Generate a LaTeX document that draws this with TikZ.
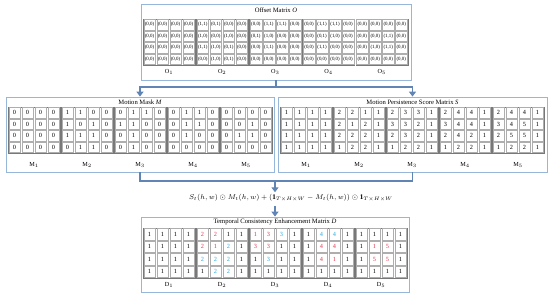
\documentclass[tikz,border=0pt]{standalone}
\usepackage{fontspec}
\setmainfont{Liberation Serif}
\usetikzlibrary{arrows.meta}
\definecolor{boxc}{RGB}{150,182,218}
\definecolor{arrc}{RGB}{96,132,180}
\definecolor{gridc}{RGB}{120,120,120}
\definecolor{myred}{RGB}{225,55,80}
\definecolor{myblue}{RGB}{40,170,220}
\newcommand\rr[1]{\textcolor{myred}{#1}}
\newcommand\bb[1]{\textcolor{myblue}{#1}}
\newcommand\pr[2]{(#1,#2)}
\newcommand\fs[1]{\fontsize{#1}{#1}\selectfont}
\tikzset{
  panel/.style={draw=boxc, line width=0.8pt, inner sep=0pt, fill=white},
  matbox/.style={draw=gridc, line width=0.45pt, inner sep=0pt, minimum width=52pt},
  cellbox/.style={draw=gridc!60, line width=0.35pt, inner sep=0pt, minimum width=11.6pt},
  ttl/.style={font=\fs{6.6}, inner sep=0pt},
  lab/.style={font=\fs{6.2}, inner sep=0pt},
  conn/.style={draw=arrc, line width=1.8pt},
  arr/.style={conn, -{Triangle[width=7pt,length=5pt]}},
}
% name, x, y, cell height, font size, label, label y, entries
\newcommand\drawmat[8]{%
  \node[matbox, minimum height=4*#4] (#1) at (#2+26,#3+2*#4) {};
  \foreach \v [count=\i from 0] in {#8} {
    \pgfmathtruncatemacro\cc{mod(\i,4)}
    \pgfmathtruncatemacro\rw{int(\i/4)}
    \node[cellbox, minimum height=#4-1.3, font=\fs{#5}] (#1-\i) at (#2+13*\cc+6.5,#3+#4*\rw+#4/2) {\v};
  }
  \node[lab] (#1-l) at (#2+26,#7) {#6};
}
\begin{document}
\begin{tikzpicture}[x=1pt,y=-1pt]
\useasboundingbox (0,0) rectangle (550,296);
% panels
\node[panel, minimum width=270pt, minimum height=76pt] (top) at (276,42) {};
\node[panel, minimum width=268pt, minimum height=75pt] (mask) at (140,134.5) {};
\node[panel, minimum width=269pt, minimum height=75pt] (score) at (412.5,134.5) {};
\node[panel, minimum width=268pt, minimum height=75pt] (D) at (275,254.5) {};
% titles
\node[ttl] (ttop) at (276,10) {Offset Matrix \textit{O}};
\node[ttl] (tmask) at (140,102) {Motion Mask \textit{M}};
\node[ttl] (tscore) at (412.5,102) {Motion Persistence Score Matrix \textit{S}};
\node[ttl] (tD) at (275,222) {Temporal Consistency Enhancement Matrix \textit{D}};
% offset matrices
\drawmat{O1}{143}{19}{11.5}{4.9}{O$_1$}{72}{\pr00,\pr00,\pr00,\pr00,\pr00,\pr00,\pr00,\pr00,\pr00,\pr00,\pr00,\pr00,\pr00,\pr00,\pr00,\pr00}
\drawmat{O2}{196.2}{19}{11.5}{4.9}{O$_2$}{72}{\pr11,\pr01,\pr00,\pr00,\pr10,\pr00,\pr10,\pr00,\pr11,\pr10,\pr01,\pr00,\pr00,\pr10,\pr01,\pr00}
\drawmat{O3}{249.4}{19}{11.5}{4.9}{O$_3$}{72}{\pr00,\pr11,\pr11,\pr00,\pr01,\pr10,\pr00,\pr00,\pr00,\pr11,\pr00,\pr00,\pr00,\pr00,\pr00,\pr00}
\drawmat{O4}{302.6}{19}{11.5}{4.9}{O$_4$}{72}{\pr00,\pr11,\pr11,\pr00,\pr00,\pr01,\pr10,\pr00,\pr00,\pr11,\pr00,\pr00,\pr00,\pr00,\pr00,\pr00}
\drawmat{O5}{355.8}{19}{11.5}{4.9}{O$_5$}{72}{\pr00,\pr00,\pr00,\pr00,\pr00,\pr00,\pr11,\pr00,\pr00,\pr10,\pr11,\pr00,\pr00,\pr00,\pr00,\pr00}
% mask matrices
\drawmat{M1}{8}{107}{11.5}{6.3}{M$_1$}{165}{0,0,0,0,0,0,0,0,0,0,0,0,0,0,0,0}
\drawmat{M2}{61}{107}{11.5}{6.3}{M$_2$}{165}{1,1,0,0,1,0,1,0,1,1,1,0,0,1,1,0}
\drawmat{M3}{114}{107}{11.5}{6.3}{M$_3$}{165}{0,1,1,0,1,1,0,0,0,1,0,0,0,1,0,0}
\drawmat{M4}{167}{107}{11.5}{6.3}{M$_4$}{165}{0,1,1,0,0,1,1,0,0,1,0,0,0,0,0,0}
\drawmat{M5}{220}{107}{11.5}{6.3}{M$_5$}{165}{0,0,0,0,0,0,1,0,0,1,1,0,0,0,0,0}
% score matrices
\drawmat{S1}{280}{107}{11.5}{6.3}{M$_1$}{165}{1,1,1,1,1,1,1,1,1,1,1,1,1,1,1,1}
\drawmat{S2}{333}{107}{11.5}{6.3}{M$_2$}{165}{2,2,1,1,2,1,2,1,2,2,2,1,1,2,2,1}
\drawmat{S3}{386}{107}{11.5}{6.3}{M$_3$}{165}{2,3,3,1,3,3,2,1,2,3,2,1,1,2,2,1}
\drawmat{S4}{439}{107}{11.5}{6.3}{M$_4$}{165}{2,4,4,1,3,4,4,1,2,4,2,1,1,2,2,1}
\drawmat{S5}{492}{107}{11.5}{6.3}{M$_5$}{165}{2,4,4,1,3,4,5,1,2,5,5,1,1,2,2,1}
% D matrices
\drawmat{D1}{143}{228}{12.5}{6.3}{D$_1$}{285}{1,1,1,1,1,1,1,1,1,1,1,1,1,1,1,1}
\drawmat{D2}{196}{228}{12.5}{6.3}{D$_2$}{285}{\rr2,\rr2,1,1,\rr2,\rr1,\bb2,1,\bb2,\bb2,\bb2,1,1,\bb2,\bb2,1}
\drawmat{D3}{249}{228}{12.5}{6.3}{D$_3$}{285}{\rr1,\rr3,\bb3,1,\rr3,\rr3,1,1,1,\bb3,1,1,1,1,1,1}
\drawmat{D4}{302}{228}{12.5}{6.3}{D$_4$}{285}{1,\bb4,\bb4,1,1,\rr4,\rr4,1,1,\rr4,\rr1,1,1,1,1,1}
\drawmat{D5}{355}{228}{12.5}{6.3}{D$_5$}{285}{1,1,1,1,1,\rr1,\rr5,1,1,\rr5,\rr5,1,1,1,1,1}
% formula
\node[inner sep=2pt, font=\fs{7.1}] (form) at (291,198)
  {$S_t(h,w)\odot M_t(h,w)+(\mathbf{1}_{T\times H\times W}-M_t(h,w))\odot\mathbf{1}_{T\times H\times W}$};
% connectors
\coordinate (j1) at (276,87);
\coordinate (j2) at (275,181);
\coordinate (fb) at (275,206);
\draw[conn] (top.south) -- (j1);
\draw[arr] (j1) -| (mask.north);
\draw[arr] (j1) -| (score.north);
\draw[conn] (mask.south) |- (j2);
\draw[conn] (score.south) |- (j2);
\draw[arr] (j2) -- (j2 |- form.north);
\draw[arr] (fb) -- (D.north);
\end{tikzpicture}
\end{document}
